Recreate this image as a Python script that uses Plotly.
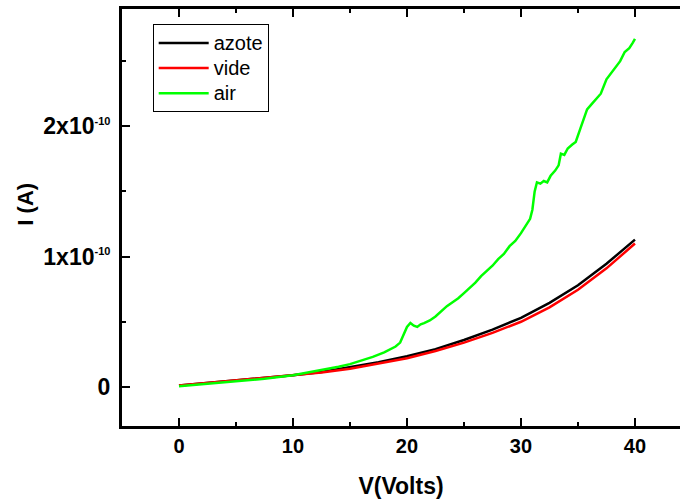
import plotly.graph_objects as go

# ---- data ----
v_smooth = [0, 2.5, 5, 7.5, 10, 12.5, 15, 17.5, 20, 22.5, 25, 27.5, 30, 32.5, 35, 37.5, 40]
i_azote = [0.01, 0.03, 0.045, 0.065, 0.09, 0.115, 0.15, 0.19, 0.235, 0.29, 0.36, 0.44, 0.53, 0.645, 0.78, 0.945, 1.13]
i_vide = [0.01, 0.03, 0.045, 0.065, 0.088, 0.11, 0.14, 0.18, 0.22, 0.275, 0.34, 0.415, 0.50, 0.61, 0.745, 0.91, 1.10]

v_air = [0, 2.5, 5, 7.5, 10, 12, 13, 14, 15, 16, 17, 18, 18.5, 19, 19.4, 19.7, 20, 20.3, 20.6,
         20.9, 21.2, 21.5, 22, 22.5, 23, 23.5, 24, 24.5, 25, 25.5, 26, 26.5, 27, 27.5, 28, 28.5,
         29, 29.5, 30, 30.5, 30.8, 31.0, 31.2, 31.4, 31.7, 32.0, 32.3, 32.6, 33, 33.3, 33.5, 33.8,
         34.1, 34.5, 34.8, 35.2, 35.5, 35.8, 36.2, 36.6, 37, 37.5, 38, 38.3, 38.7, 39.1, 39.5, 39.8, 40]
i_air = [0.005, 0.025, 0.042, 0.062, 0.09, 0.12, 0.135, 0.155, 0.175, 0.2, 0.23, 0.265, 0.285, 0.31,
         0.34, 0.40, 0.46, 0.49, 0.47, 0.46, 0.48, 0.49, 0.51, 0.54, 0.58, 0.62, 0.65, 0.68, 0.72,
         0.76, 0.80, 0.85, 0.89, 0.93, 0.98, 1.02, 1.08, 1.12, 1.18, 1.25, 1.29, 1.36, 1.50, 1.57,
         1.56, 1.58, 1.57, 1.62, 1.66, 1.70, 1.79, 1.78, 1.83, 1.86, 1.88, 1.98, 2.05, 2.13, 2.17,
         2.21, 2.25, 2.36, 2.42, 2.45, 2.50, 2.57, 2.60, 2.64, 2.67]
scale = 1e-10

series_names = ["azote", "vide", "air"]
y_tickvals = [0, 1e-10, 2e-10]
y_ticktext = ["0",
              "1x10<sup><span style='font-size:11px'>-10</span></sup>",
              "2x10<sup><span style='font-size:11px'>-10</span></sup>"]
x_tickvals = [0, 10, 20, 30, 40]

FONT = "Liberation Sans, Arial, sans-serif"


def legend_label(name):
    return "<span style='font-size:20px'>" + name + "</span>"


fig = go.Figure()
fig.add_trace(go.Scatter(x=v_smooth, y=[a * scale for a in i_azote], mode="lines",
                         name=legend_label(series_names[0]),
                         line=dict(color="black", width=2.5)))
fig.add_trace(go.Scatter(x=v_smooth, y=[a * scale for a in i_vide], mode="lines",
                         name=legend_label(series_names[1]),
                         line=dict(color="#ff0000", width=2.5)))
fig.add_trace(go.Scatter(x=v_air, y=[a * scale for a in i_air], mode="lines",
                         name=legend_label(series_names[2]),
                         line=dict(color="#00ff00", width=2.5)))

fig.update_layout(
    width=680, height=499,
    margin=dict(l=122, r=0, t=9, b=73),
    paper_bgcolor="white", plot_bgcolor="white",
    showlegend=True,
    legend=dict(x=0.055, y=0.963, xanchor="left", yanchor="top",
                bordercolor="black", borderwidth=1, bgcolor="white",
                font=dict(family=FONT, size=17, color="black"),
                tracegroupgap=0, itemwidth=50),
    xaxis=dict(range=[-5, 43.95], tickvals=x_tickvals, ticks="inside", ticklen=8, tickwidth=2,
               tickcolor="black", showline=True, linewidth=3, linecolor="black",
               mirror="ticks", showgrid=False, zeroline=False, automargin=False,
               minor=dict(tickvals=[5, 15, 25, 35], ticks="inside", ticklen=4, tickwidth=2,
                          tickcolor="black"),
               tickfont=dict(family=FONT, size=20, color="black", weight="bold"),
               title=dict(text="V(Volts)", standoff=22,
                          font=dict(family=FONT, size=23, color="black", weight="bold"))),
    yaxis=dict(range=[-0.3e-10, 2.9e-10], tickvals=y_tickvals, ticktext=y_ticktext,
               ticks="inside", ticklen=8, tickwidth=2, tickcolor="black",
               showline=True, linewidth=3, linecolor="black", mirror=False,
               showgrid=False, zeroline=False, automargin=False, ticklabelstandoff=4,
               minor=dict(tickvals=[0.5e-10, 1.5e-10, 2.5e-10], ticks="inside", ticklen=4,
                          tickwidth=2, tickcolor="black"),
               tickfont=dict(family=FONT, size=23, color="black", weight="bold")),
    annotations=[dict(text="I (A)", xref="paper", yref="paper", x=0, y=0.532,
                      xanchor="center", yanchor="middle", xshift=-96.5, textangle=-90,
                      showarrow=False,
                      font=dict(family=FONT, size=22, color="black", weight="bold"))],
)

fig.write_html("out.html",
               config={"displayModeBar": False},
               post_script="document.body.style.margin='0';document.body.style.overflow='hidden';")
